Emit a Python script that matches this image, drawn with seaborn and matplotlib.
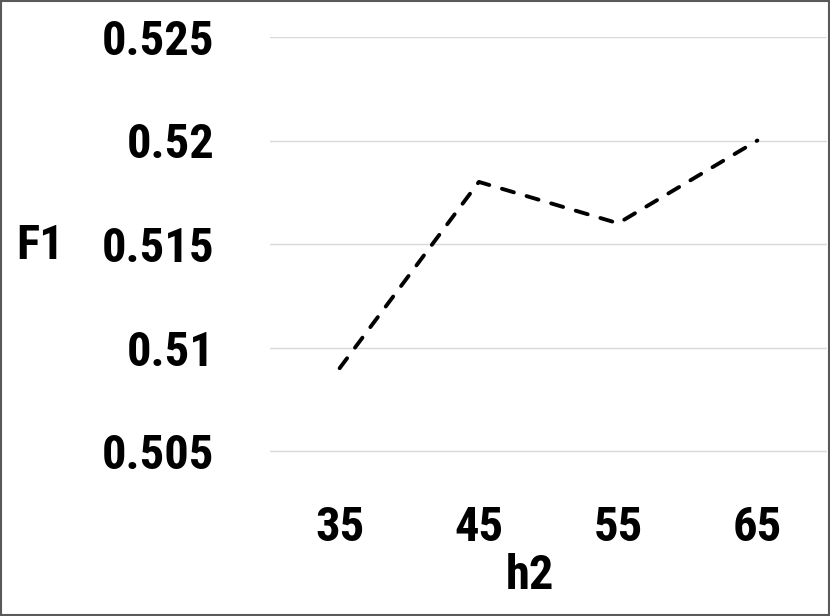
import matplotlib
matplotlib.use("Agg")
import matplotlib.pyplot as plt
import matplotlib.font_manager as fm
import seaborn as sns
import pandas as pd
from matplotlib.patches import Rectangle

categories = ["35", "45", "55", "65"]
f1_values = [0.509, 0.518, 0.516, 0.520]
y_ticks = [0.505, 0.51, 0.515, 0.52, 0.525]
y_tick_labels = ["0.505", "0.51", "0.515", "0.52", "0.525"]

sns.set_theme(style="white")
plt.rcParams["font.family"] = ["Lato", "DejaVu Sans"]
plt.rcParams["font.weight"] = "bold"
plt.rcParams["text.color"] = "black"

# look for a condensed bold font (the reference text is tall and narrow)
cond_path = None
prefs = ["LiberationSansNarrow-Bold", "RobotoCondensed-Bold", "OpenSans_Condensed-Bold",
         "OpenSansCondensed-Bold", "DejaVuSansCondensed-Bold"]
files = [f.fname for f in fm.fontManager.ttflist]
for p in prefs:
    for fn in files:
        if p.lower() in fn.lower().replace(" ", ""):
            cond_path = fn
            break
    if cond_path:
        break
if cond_path:
    fp = fm.FontProperties(fname=cond_path, size=35)
else:
    fp = fm.FontProperties(family=["Lato", "DejaVu Sans"], weight="heavy", size=32)

df = pd.DataFrame({"h2": categories, "F1": f1_values})

fig = plt.figure(figsize=(8.3, 6.16), dpi=100)
ax = fig.add_axes([270 / 830, 1 - 492.4 / 616, 557 / 830, (492.4 - 37) / 616])

sns.lineplot(data=df, x="h2", y="F1", ax=ax, color="black", linewidth=2.8,
             linestyle=(0, (3.2, 3.4)), sort=False)
for ln in ax.lines:
    ln.set_dash_capstyle("round")

ax.set_xlim(-0.5, 3.5)
ax.set_ylim(0.503, 0.525)
ax.set_yticks(y_ticks)
ax.set_yticklabels(y_tick_labels)
ax.yaxis.grid(True, color="#d9d9d9", linewidth=1)
ax.xaxis.grid(False)
for s in ax.spines.values():
    s.set_visible(False)
ax.tick_params(axis="y", length=0, pad=40, labelcolor="black")
ax.tick_params(axis="x", length=0, pad=9, labelcolor="black")
for lab in ax.get_xticklabels() + ax.get_yticklabels():
    lab.set_fontproperties(fp)

ax.set_xlabel("")
ax.set_ylabel("")
fig.text(40 / 830, 1 - 246 / 616, "F1", fontproperties=fp, color="black",
         ha="center", va="center")
fig.text(530 / 830, 1 - 576 / 616, "h2", fontproperties=fp, color="black",
         ha="center", va="center")

fig.patches.append(Rectangle((0.0015, 0.002), 0.997, 0.996, transform=fig.transFigure,
                             fill=False, edgecolor="#595959", linewidth=1.5))

fig.savefig("out.png", dpi=100)
